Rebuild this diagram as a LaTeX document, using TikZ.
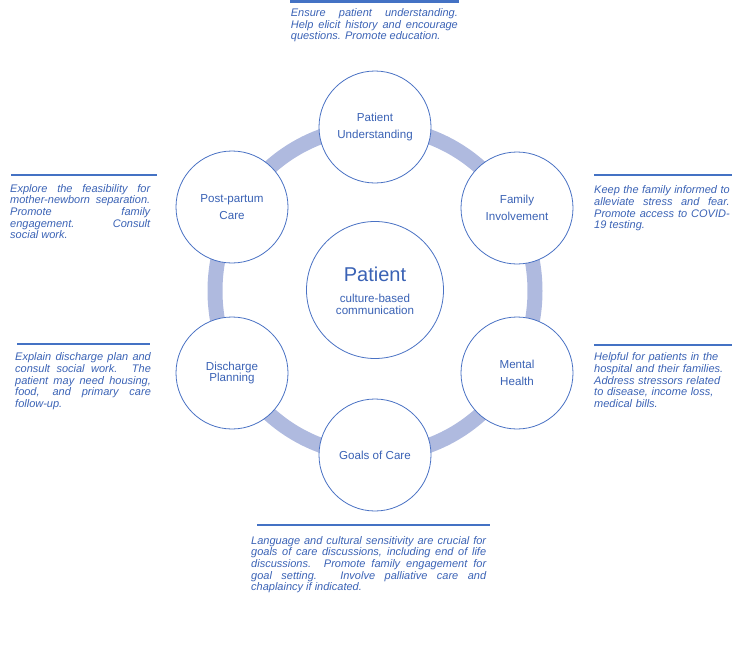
\documentclass[tikz,border=0pt]{standalone}
\usepackage{fontspec}
\setmainfont{Liberation Sans}
\definecolor{txt}{HTML}{3A62B5}
\definecolor{cstroke}{HTML}{4A72C4}
\definecolor{cline}{HTML}{4472C4}
\definecolor{ringc}{HTML}{AFBADF}
\tolerance=10000
\hbadness=10000
\begin{document}
\begin{tikzpicture}[x=1pt,y=-1pt,
  bubble/.style={circle,draw=cstroke,line width=0.8pt,fill=white,minimum size=112pt,inner sep=0pt,text=txt,align=center,font=\fontsize{11.6}{16.7}\selectfont},
  note/.style={anchor=base west,inner sep=0pt,text=txt,align=justify,font=\fontsize{11}{11.7}\selectfont\itshape},
  rulel/.style={draw=cline,line width=1.8pt}]
\useasboundingbox (0,0) rectangle (740,670);
% ring
\draw[draw=ringc,line width=15pt] (375,291) ellipse [x radius=160, y radius=164];
% circles
\node[bubble] (pu) at (375,127) {Patient\\Understanding};
\node[bubble] (fi) at (517,208) {Family\\Involvement};
\node[bubble] (mh) at (517,373) {Mental\\Health};
\node[bubble] (gc) at (375,455) {Goals of Care};
\node[bubble,font=\fontsize{11.6}{11.5}\selectfont] (dp) at (232,373) {Discharge\\Planning};
\node[bubble] (pc) at (232,207) {Post-partum\\Care};
\node[bubble,minimum size=137pt] (ctr) at (375,290) {};
\node[anchor=base,inner sep=0pt,text=txt,font=\fontsize{20}{22}\selectfont] (ctitle) at (375,281) {Patient};
\node[anchor=base,inner sep=0pt,text=txt,align=center,font=\fontsize{11.6}{11.4}\selectfont] (csub) at (375,314) {culture-based\\communication};
% rules
\draw[rulel,line width=2.2pt] (290,1.5) -- (459,1.5);
\draw[rulel] (11,175) -- (157,175);
\draw[rulel] (594,175) -- (732,175);
\draw[rulel] (17,344) -- (150,344);
\draw[rulel] (594,345) -- (732,345);
\draw[rulel] (257,525) -- (490,525);
% notes
\node[note,text width=167pt] (ntop) at (290.7,16.5) {Ensure patient understanding.\linebreak Help elicit history and encourage\linebreak questions. Promote education.};
\node[note,text width=140pt] (nlt) at (10,192) {Explore the feasibility for\linebreak mother-newborn separation.\linebreak Promote family\linebreak engagement. Consult\linebreak social work.};
\node[note,text width=135.5pt] (nrt) at (594,193.7) {Keep the family informed to\linebreak alleviate stress and fear.\linebreak Promote access to COVID-\linebreak 19 testing.};
\node[note,text width=135.7pt] (nlb) at (15,360.7) {Explain discharge plan and\linebreak consult social work. The\linebreak patient may need housing,\linebreak food, and primary care\linebreak follow-up.};
\node[note,align=left,text width=137pt] (nrb) at (594,360.7) {Helpful for patients in the\\hospital and their families.\\Address stressors related\\to disease, income loss,\\medical bills.};
\node[note,text width=235pt] (nbt) at (251,544) {Language and cultural sensitivity are crucial for\linebreak goals of care discussions, including end of life\linebreak discussions. Promote family engagement for\linebreak goal setting. Involve palliative care and\linebreak chaplaincy if indicated.};
\end{tikzpicture}
\end{document}
